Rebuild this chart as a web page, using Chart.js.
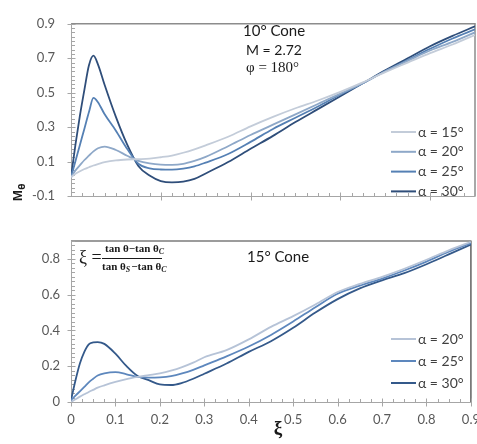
<!DOCTYPE html>
<html><head><meta charset="utf-8">
<script src="https://cdn.jsdelivr.net/npm/chart.js@4.4.0/dist/chart.umd.min.js"></script>
<style>
html,body{margin:0;padding:0;overflow:hidden;background:#fff;width:477px;height:444px}
canvas{position:absolute;left:0}
</style></head>
<body>
<canvas id="c1" width="490" height="220" style="top:0"></canvas>
<canvas id="c2" width="490" height="226" style="top:218px"></canvas>
<script>
// ---------- data ----------
const xi = [0,0.01,0.02,0.03,0.04,0.05,0.06,0.075,0.1,0.125,0.15,0.175,0.2,0.225,0.25,0.275,0.3,0.35,0.4,0.45,0.5,0.55,0.6,0.65,0.7,0.75,0.8,0.85,0.9];

// 10° cone
const cone10_a15 = [0.01,0.03,0.045,0.058,0.068,0.078,0.086,0.097,0.108,0.113,0.115,0.118,0.126,0.136,0.152,0.172,0.195,0.245,0.305,0.36,0.41,0.455,0.505,0.56,0.62,0.675,0.73,0.78,0.835];
const cone10_a20 = [0.01,0.05,0.08,0.11,0.135,0.16,0.178,0.188,0.168,0.135,0.105,0.09,0.083,0.082,0.088,0.105,0.128,0.19,0.255,0.315,0.375,0.435,0.495,0.555,0.625,0.685,0.745,0.795,0.85];
const cone10_a25 = [0.01,0.104,0.199,0.293,0.388,0.47,0.445,0.375,0.28,0.175,0.088,0.062,0.055,0.054,0.06,0.073,0.095,0.145,0.215,0.29,0.355,0.42,0.49,0.555,0.625,0.69,0.755,0.815,0.868];
const cone10_a30 = [0.01,0.2,0.37,0.52,0.66,0.715,0.665,0.545,0.36,0.2,0.075,0.02,-0.012,-0.02,-0.016,0.0,0.032,0.098,0.175,0.25,0.33,0.405,0.48,0.555,0.63,0.70,0.77,0.83,0.885];

// 15° cone
const cone15_a20 = [0,0.015,0.03,0.043,0.056,0.068,0.08,0.093,0.112,0.128,0.14,0.15,0.16,0.175,0.195,0.22,0.25,0.29,0.35,0.42,0.48,0.545,0.615,0.66,0.7,0.745,0.795,0.848,0.895];
const cone15_a25 = [0.01,0.035,0.06,0.085,0.11,0.13,0.148,0.16,0.167,0.155,0.14,0.136,0.138,0.145,0.16,0.18,0.205,0.255,0.31,0.375,0.45,0.53,0.605,0.65,0.69,0.735,0.785,0.84,0.888];
const cone15_a30 = [0.01,0.12,0.215,0.28,0.322,0.333,0.335,0.325,0.27,0.2,0.145,0.122,0.098,0.095,0.107,0.13,0.158,0.215,0.28,0.34,0.415,0.5,0.575,0.635,0.68,0.72,0.77,0.825,0.88];

const labels10 = ['α = 15°','α = 20°','α = 25°','α = 30°'];
const labels15 = ['α = 20°','α = 25°','α = 30°'];

const yTicksTop = [-0.1,0.1,0.3,0.5,0.7,0.9];
const yTicksBot = [0,0.2,0.4,0.6,0.8];
const xTicksBot = [0,0.1,0.2,0.3,0.4,0.5,0.6,0.7,0.8,0.9];
const xMajorTop = [0.2,0.4,0.6,0.8];

// ---------- helpers ----------
const toPts = arr => arr.map((v,i)=>({x:xi[i], y:v}));
const fmt = v => (Math.abs(v) < 1e-9 ? '0' : v.toFixed(1));
const TICKFONT = {family:'Lato', size:13};
const TICKCOLOR = '#595959';

function ds(label, data, color){
  return {label, data: toPts(data), borderColor: color, backgroundColor: color,
    borderWidth: 1.8, pointRadius: 0, fill: false, cubicInterpolationMode: 'monotone'};
}

const deco = {
  id: 'deco',
  beforeDatasetsDraw(chart, args, o){
    const {ctx, chartArea:a, scales:{x,y}} = chart;
    ctx.save();
    ctx.strokeStyle = o.frameColor; ctx.lineWidth = o.frameWidth;
    ctx.beginPath();
    ctx.moveTo(a.left, a.top); ctx.lineTo(a.right, a.top); ctx.lineTo(a.right, a.bottom);
    ctx.stroke();
    ctx.strokeStyle = '#a6a6a6'; ctx.lineWidth = 1;
    ctx.beginPath();
    const L = Math.round(a.left)+0.5, B = Math.round(a.bottom)+0.5;
    ctx.moveTo(L, a.top); ctx.lineTo(L, B); ctx.lineTo(a.right, B);
    const step = 0.025;
    for (let i=0;;i++){ const v = y.min + i*step; if (v > y.max+1e-9) break;
      const p = Math.round(y.getPixelForValue(v))+0.5; ctx.moveTo(L, p); ctx.lineTo(L+3.5, p); }
    for (let i=0;;i++){ const v = x.min + i*step; if (v > x.max+1e-9) break;
      const p = Math.round(x.getPixelForValue(v))+0.5; ctx.moveTo(p, B); ctx.lineTo(p, B-3.5); }
    o.yMajor.forEach(v=>{ const p = Math.round(y.getPixelForValue(v))+0.5; ctx.moveTo(L-4, p); ctx.lineTo(L+4, p); });
    o.xMajor.forEach(v=>{ const p = Math.round(x.getPixelForValue(v))+0.5; ctx.moveTo(p, B-4); ctx.lineTo(p, B+4); });
    ctx.stroke();
    ctx.restore();
  },
  afterDraw(chart, args, o){
    const {ctx} = chart;
    ctx.save();
    const lg = o.legend;
    chart.data.datasets.forEach((d,i)=>{
      const yy = lg.y0 + i*lg.dy;
      ctx.strokeStyle = d.borderColor; ctx.lineWidth = 2;
      ctx.beginPath(); ctx.moveTo(lg.x0, yy); ctx.lineTo(lg.x1, yy); ctx.stroke();
      ctx.fillStyle = '#404040'; ctx.font = '14px Lato'; ctx.textBaseline = 'middle'; ctx.textAlign = 'left';
      ctx.fillText(d.label, lg.tx, yy);
    });
    (o.texts||[]).forEach(t=>{
      ctx.fillStyle = t.color || '#1a1a1a'; ctx.font = t.font; ctx.textBaseline = 'middle'; ctx.textAlign = t.align || 'left';
      ctx.fillText(t.s, t.x, t.y);
    });
    if (o.extra) o.extra(ctx);
    ctx.restore();
  }
};
Chart.register(deco);

function baseOptions(padTop, padRight, xAfter, yWidth, yPad, yTicks, xTicks, showX, xPad, plugOpts, ymin, ymax){
  return {
    responsive:false, animation:false, devicePixelRatio:1,
    layout:{padding:{top:padTop, right:padRight, left:0, bottom:0}},
    plugins:{legend:{display:false}, tooltip:{enabled:false}, deco: plugOpts},
    scales:{
      x:{type:'linear', min:0, max:0.9,
        grid:{display:false, drawTicks:false}, border:{display:false},
        ticks:{display:showX, font:TICKFONT, color:TICKCOLOR, padding:xPad, maxRotation:0, autoSkip:false, callback:v=>fmt(v)},
        afterBuildTicks: s=>{ if (xTicks) s.ticks = xTicks.map(v=>({value:v})); },
        afterFit: s=>{ s.height = xAfter; }},
      y:{type:'linear', min:ymin, max:ymax,
        grid:{display:false, drawTicks:false}, border:{display:false},
        ticks:{font:TICKFONT, color:TICKCOLOR, padding:yPad, autoSkip:false, callback:v=>fmt(v)},
        afterBuildTicks: s=>{ s.ticks = yTicks.map(v=>({value:v})); },
        afterFit: s=>{ s.width = yWidth; }}
    }
  };
}

function subText(ctx, parts, x, y){
  parts.forEach(([t, sub])=>{
    ctx.font = sub ? 'italic bold 8px "Liberation Serif"' : 'bold 11px "Liberation Serif"';
    ctx.fillText(t, x, sub ? y+3 : y);
    x += ctx.measureText(t).width + (sub ? 1 : 0);
  });
  return x;
}

// ---------- top chart ----------
new Chart(document.getElementById('c1'), {
  type:'line',
  data:{datasets:[
    ds(labels10[0], cone10_a15, '#c3ccd9'),
    ds(labels10[1], cone10_a20, '#8ea8c8'),
    ds(labels10[2], cone10_a25, '#5580b4'),
    ds(labels10[3], cone10_a30, '#2f4e7a')
  ]},
  options: baseOptions(15, 15, 10, 71, 16, yTicksTop, null, false, 0, {
    frameColor:'#8c8c8c', frameWidth:1.5, yMajor:yTicksTop, xMajor:xMajorTop,
    legend:{x0:391, x1:416, tx:418, y0:132, dy:19.8},
    texts:[
      {s:'10° Cone', x:243, y:31, font:'15px Lato'},
      {s:'M = 2.72', x:246, y:50, font:'14px Lato'},
      {s:'φ = 180°', x:246, y:68, font:'15px "Liberation Serif"'}
    ],
    extra: ctx=>{
      ctx.save();
      ctx.translate(22, 201); ctx.rotate(-Math.PI/2);
      ctx.fillStyle = '#1a1a1a'; ctx.textAlign='left'; ctx.textBaseline='alphabetic';
      ctx.font = 'bold 13px "Liberation Sans"';
      ctx.fillText('M', 0, 0);
      const w = ctx.measureText('M').width;
      ctx.font = 'bold 9px "DejaVu Sans"';
      ctx.fillText('θ', w+0.5, 3);
      ctx.restore();
    }
  }, -0.1, 0.9)
});

// ---------- bottom chart ----------
new Chart(document.getElementById('c2'), {
  type:'line',
  data:{datasets:[
    ds(labels15[0], cone15_a20, '#b6c3d7'),
    ds(labels15[1], cone15_a25, '#5d87bd'),
    ds(labels15[2], cone15_a30, '#34598a')
  ]},
  options: baseOptions(23, 14, 42, 71, 11, yTicksBot, xTicksBot, true, 10, {
    frameColor:'#3a3a3a', frameWidth:1.2, yMajor:yTicksBot, xMajor:xTicksBot,
    legend:{x0:391, x1:416, tx:418, y0:121, dy:22},
    texts:[
      {s:'15° Cone', x:247, y:39, font:'15px Lato'},
      {s:'ξ', x:278, y:211, font:'bold 19px "Liberation Serif"', align:'center'}
    ],
    extra: ctx=>{
      ctx.save();
      ctx.fillStyle = '#1a1a1a'; ctx.textBaseline='middle'; ctx.textAlign='left';
      ctx.font = '18px "Liberation Serif"';
      ctx.fillText('ξ =', 79, 40);
      subText(ctx, [['tan θ−tan θ',false],['C',true]], 105, 31);
      ctx.strokeStyle = '#1a1a1a'; ctx.lineWidth = 1;
      ctx.beginPath(); ctx.moveTo(102, 40.5); ctx.lineTo(162, 40.5); ctx.stroke();
      subText(ctx, [['tan θ',false],['S',true],['−tan θ',false],['C',true]], 102, 49);
      ctx.restore();
    }
  }, 0, 0.9)
});
</script>
</body></html>
